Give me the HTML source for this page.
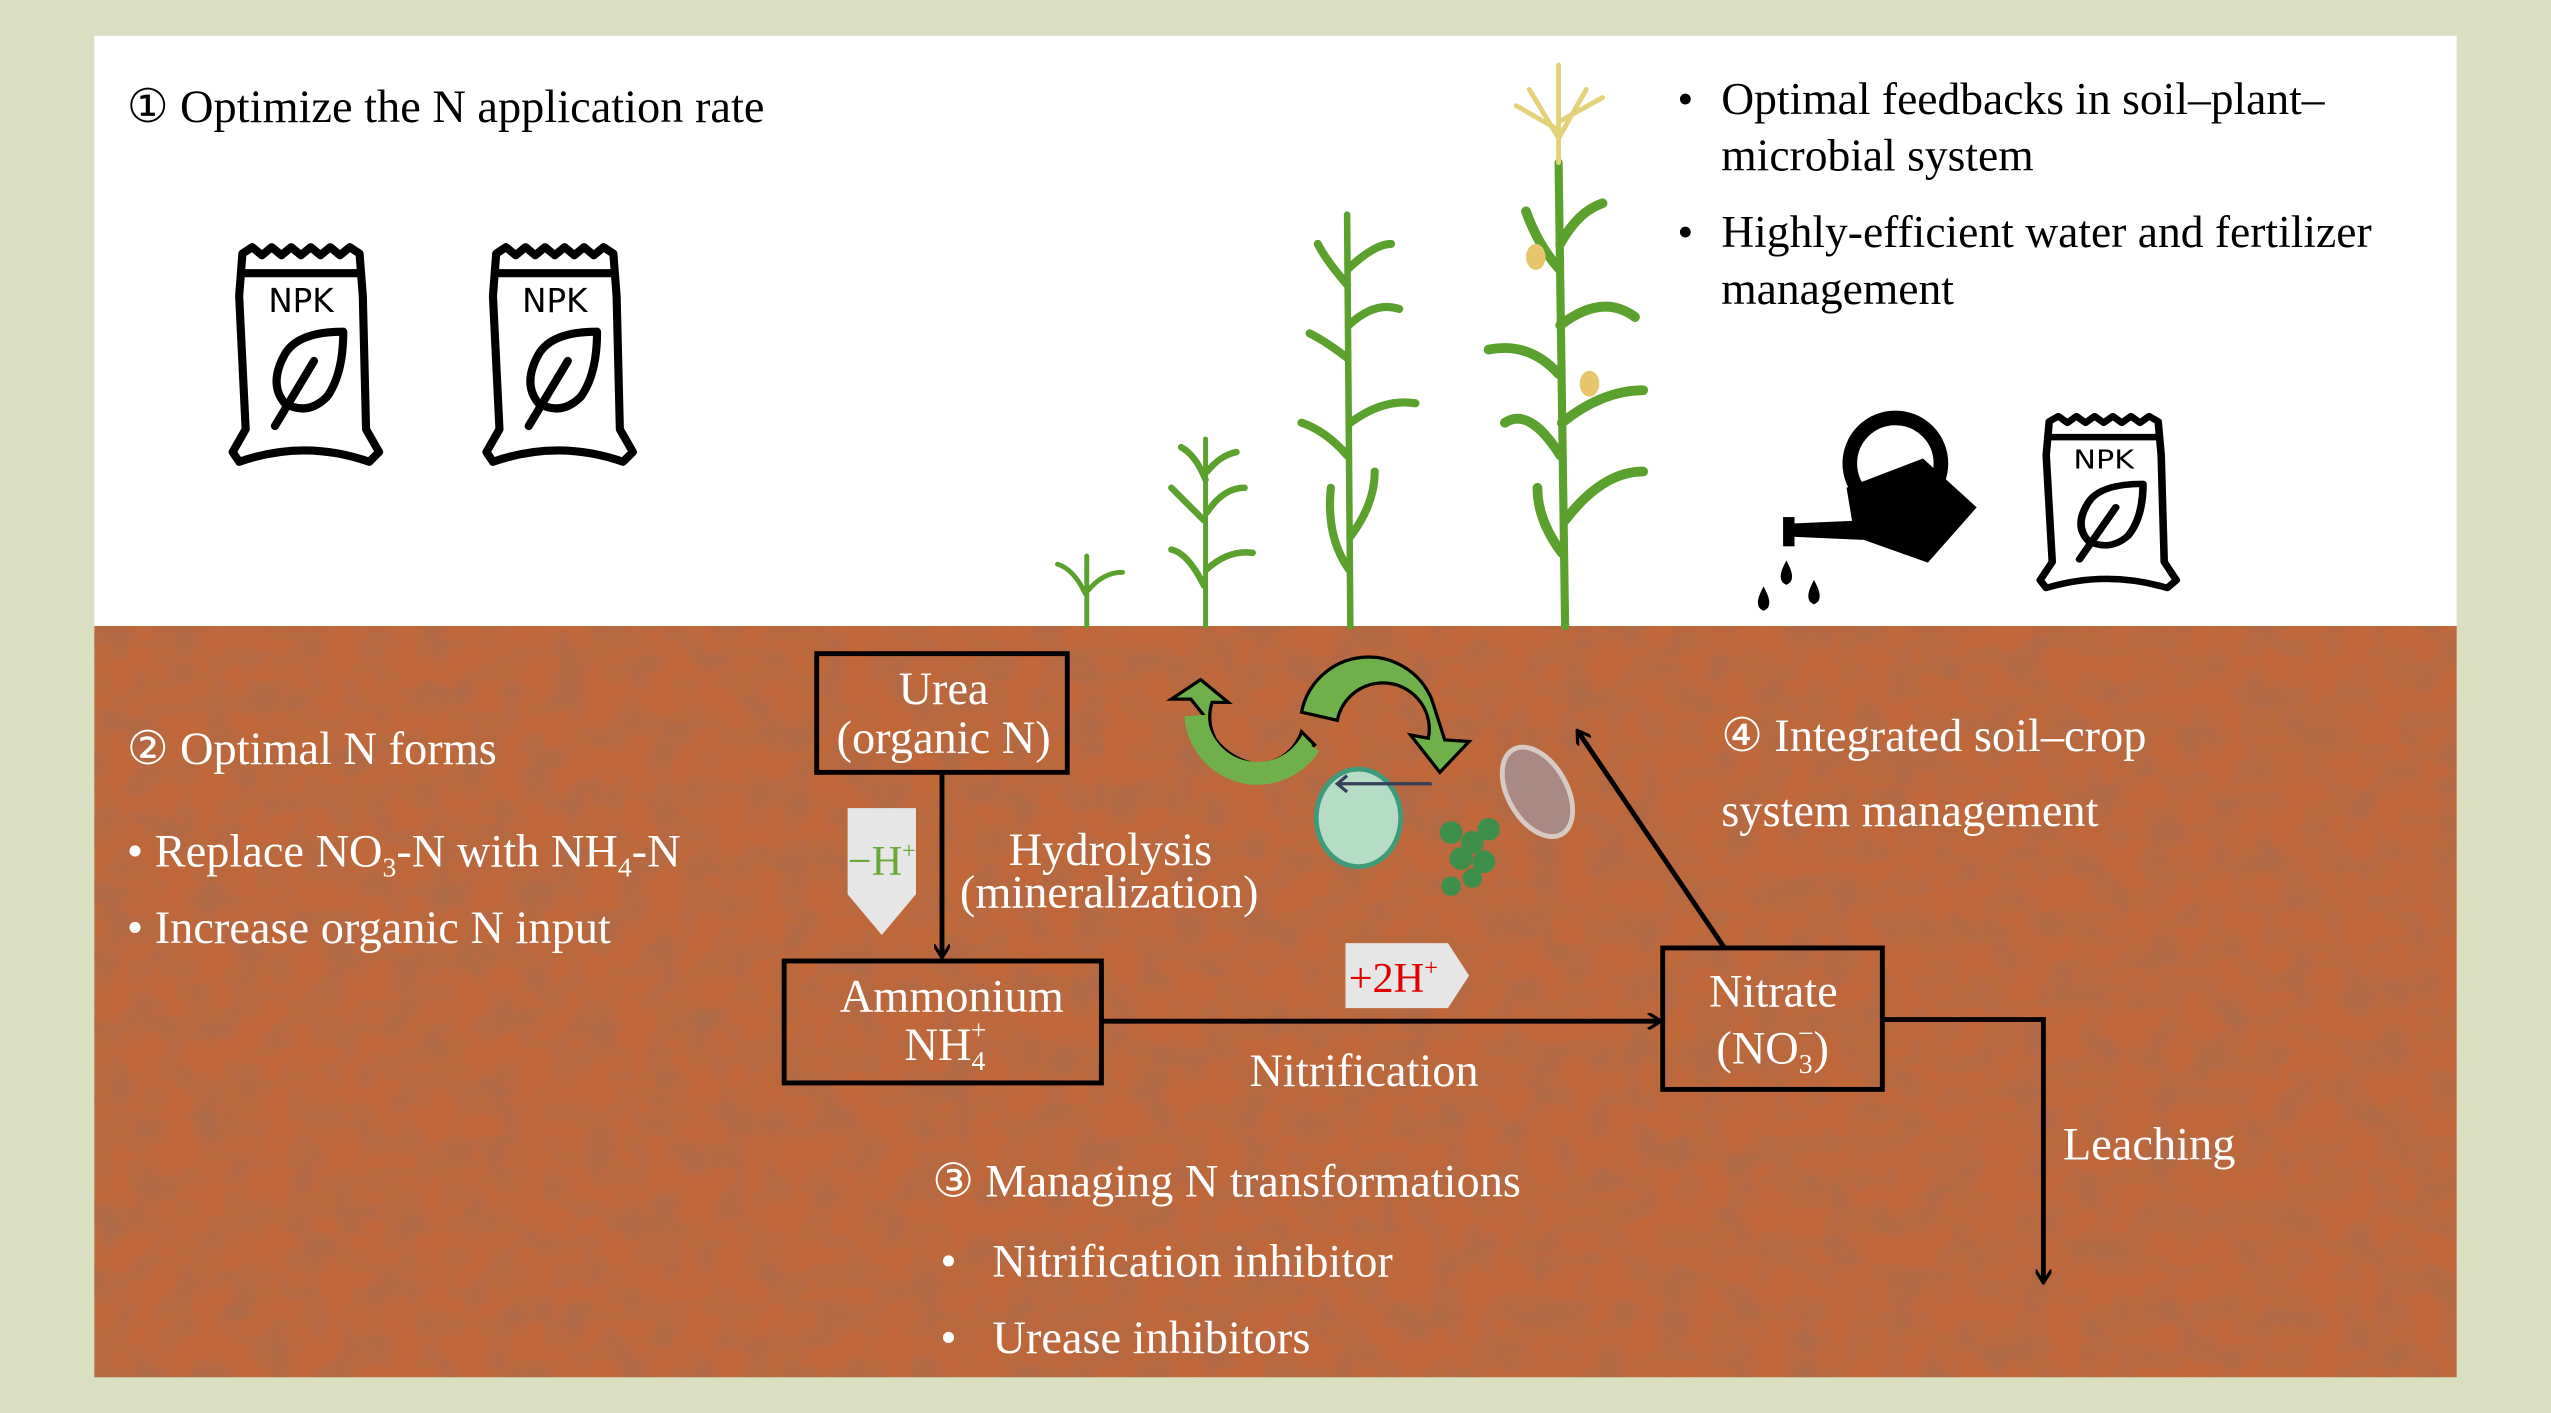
<!DOCTYPE html>
<html><head><meta charset="utf-8"><style>
html,body{margin:0;padding:0;background:#d9dfc0;}
svg{display:block;}
text{font-family:"Liberation Serif",serif;}
</style></head><body>
<svg width="2551" height="1413" viewBox="0 0 1568 869" preserveAspectRatio="none" xmlns="http://www.w3.org/2000/svg">
<defs>
<filter id="tex" x="0" y="0" width="100%" height="100%">
<feTurbulence type="fractalNoise" baseFrequency="0.05" numOctaves="3" seed="4" result="n"/>
<feColorMatrix in="n" type="matrix" values="0 0 0 0 0.35  0 0 0 0 0.15  0 0 0 0 0.08  0 0 0 1.1 -0.35" result="d"/>
<feComposite in="d" in2="SourceGraphic" operator="in" result="dd"/>
<feMerge><feMergeNode in="SourceGraphic"/><feMergeNode in="dd"/></feMerge>
</filter>
<marker id="ah" markerWidth="10" markerHeight="10" refX="8" refY="5" orient="auto" markerUnits="userSpaceOnUse">
<path d="M1,0 L9,5 L1,10" fill="none" stroke="#000" stroke-width="2"/>
</marker>
<g id="bag">
<path d="M6,4 L12,0 L18,5 L24,0 L30,5 L36,0 L42,5 L48,0 L54,5 L60,0 L66,5 L72,0 L78,4 L80,30 L82,112 L90,126 L84,132 Q44,118 4,132 L0,126 L8,112 L4,30 Z" fill="#fff" stroke="#000" stroke-width="5" stroke-linejoin="round"/>
<line x1="6" y1="16" x2="80" y2="16" stroke="#000" stroke-width="5"/>
<text x="42" y="40" font-size="20" text-anchor="middle" fill="#000" style="font-family:'DejaVu Sans',sans-serif">NPK</text>
<path d="M68,52 Q40,52 32,66 Q22,84 32,96 Q46,104 58,92 Q68,78 68,52 Z" fill="none" stroke="#000" stroke-width="5" stroke-linejoin="round"/>
<path d="M50,70 L26,110" stroke="#000" stroke-width="5" stroke-linecap="round"/>
</g>
</defs>
<rect x="0" y="0" width="1568" height="869" fill="#d9dfc0"/>
<rect x="58" y="22" width="1452" height="363" fill="#fff"/>
<rect x="58" y="385" width="1452" height="462" fill="#c1673a" filter="url(#tex)"/>

<text x="78" y="75" font-size="28.5" fill="#000">① Optimize the N application rate</text>
<use href="#bag" x="143" y="152"/>
<use href="#bag" x="299" y="152"/>
<g transform="translate(1254,256) scale(0.93,0.8)"><use href="#bag"/></g>

<text font-size="28" fill="#000"><tspan x="1031" y="70">•</tspan><tspan x="1058" y="70">Optimal feedbacks in soil–plant–</tspan><tspan x="1058" y="105">microbial system</tspan><tspan x="1031" y="152">•</tspan><tspan x="1058" y="152">Highly-efficient water and fertilizer</tspan><tspan x="1058" y="187">management</tspan></text>

<!-- watering can -->
<circle cx="1165" cy="285" r="28" fill="none" stroke="#000" stroke-width="9"/>
<path d="M1135,300 L1182,282 L1215,312 L1185,346 L1140,330 Z" fill="#000"/>
<path d="M1145,320 L1100,322 L1100,330 L1145,332 Z" fill="#000"/>
<rect x="1096" y="318" width="7" height="18" fill="#000"/>
<path d="M1098,348 q-4,8 0,10 q4,-2 0,-10z M1084,364 q-4,8 0,10 q4,-2 0,-10z M1115,360 q-4,8 0,10 q4,-2 0,-10z" fill="#000" stroke="#000" stroke-width="3"/>

<!-- plants -->
<g fill="none" stroke="#5aa12d" stroke-linecap="round">
<path d="M668,385 L668,342" stroke-width="3"/>
<path d="M667,365 Q660,350 650,347 M669,363 Q678,352 690,352" stroke-width="3"/>
<path d="M741,385 L741,270" stroke-width="3"/>
<path d="M740,360 Q730,340 720,338 M742,350 Q755,338 770,340 M740,320 Q728,308 720,300 M742,315 Q752,300 765,300 M741,295 Q735,280 726,275 M742,290 Q750,280 760,278" stroke-width="4"/>
<path d="M830,385 L828,132" stroke-width="4"/>
<path d="M829,350 Q815,330 818,300 M830,330 Q845,310 845,290 M828,280 Q815,265 800,260 M830,260 Q850,245 870,248 M828,220 Q815,210 805,205 M829,200 Q845,185 860,190 M828,175 Q815,160 810,150 M829,165 Q845,150 855,150" stroke-width="5"/>
<path d="M962,385 L958,100" stroke-width="5"/>
<path d="M960,340 Q945,320 945,300 M962,320 Q985,290 1010,290 M959,280 Q940,250 925,260 M960,260 Q985,240 1010,240 M958,230 Q940,210 915,215 M959,200 Q985,180 1005,195 M958,165 Q945,150 938,130 M959,150 Q970,130 985,125" stroke-width="6"/>
<path d="M958,100 L958,40 M958,80 L932,65 M958,75 L985,60 M958,85 L940,55 M958,85 L975,55" stroke="#e3d27a" stroke-width="3"/>
</g>
<ellipse cx="944" cy="158" rx="6" ry="8" fill="#e8c46a"/>
<ellipse cx="977" cy="236" rx="6" ry="8" fill="#e8c46a"/>

<!-- soil texts -->
<g fill="#fff" font-size="28.5">
<text x="78" y="470">② Optimal N forms</text>
<text x="78" y="533">• Replace NO<tspan font-size="17" dy="6">3</tspan><tspan dy="-6">-N with NH</tspan><tspan font-size="17" dy="6">4</tspan><tspan dy="-6">-N</tspan></text>
<text x="78" y="580">• Increase organic N input</text>
<text x="580" y="433" text-anchor="middle">Urea</text>
<text x="580" y="463" text-anchor="middle">(organic N)</text>
<text x="620" y="532">Hydrolysis</text>
<text x="590" y="558">(mineralization)</text>
<text x="585" y="622" text-anchor="middle">Ammonium</text>
<text x="556" y="652">NH<tspan font-size="17" dy="6">4</tspan><tspan font-size="17" dx="-9" dy="-19">+</tspan></text>
<text x="768" y="668">Nitrification</text>
<text x="1090" y="619" text-anchor="middle">Nitrate</text>
<text x="1055" y="654">(NO<tspan font-size="17" dy="6">3</tspan><tspan font-size="17" dx="-9" dy="-19">−</tspan><tspan dy="13">)</tspan></text>
<text x="1268" y="713">Leaching</text>
<text x="1058" y="462">④ Integrated soil–crop</text>
<text x="1058" y="508">system management</text>
<text x="573" y="736">③ Managing N transformations</text>
<text x="578" y="785">•</text><text x="610" y="785">Nitrification inhibitor</text>
<text x="578" y="832">•</text><text x="610" y="832">Urease inhibitors</text>
</g>

<!-- boxes -->
<g fill="none" stroke="#000" stroke-width="3">
<rect x="502" y="402" width="154" height="73"/>
<rect x="482" y="591" width="195" height="75"/>
<rect x="1022" y="583" width="135" height="87"/>
<line x1="579" y1="475" x2="579" y2="588" marker-end="url(#ah)"/>
<line x1="677" y1="628" x2="1020" y2="628" marker-end="url(#ah)"/>
<line x1="1060" y1="583" x2="970" y2="450" marker-end="url(#ah)"/>
<polyline points="1157,627 1256,627 1256,788" marker-end="url(#ah)"/>
</g>

<path d="M521,497 L563,497 L563,550 L542,575 L521,550 Z" fill="#e6e6e6"/>
<text x="542" y="538" text-anchor="middle" font-size="26" fill="#6aa83a">−H<tspan font-size="15" dy="-10">+</tspan></text>
<path d="M827,580 L890,580 L903,600 L890,620 L827,620 Z" fill="#e6e6e6"/>
<text x="829" y="610" font-size="26" fill="#e00000">+2H<tspan font-size="15" dy="-10">+</tspan></text>

<!-- green cycle arrows -->
<path d="M800,438 A42,42 0 0 1 880,430 L888,455 L903,456 L885,475 L867,452 L878,454 A28,28 0 0 0 822,443 Z" fill="#6fb04a" stroke="#000" stroke-width="2"/>
<path d="M808,458 A40,40 0 0 1 740,440 L732,430 L720,430 L738,418 L755,432 L745,432 A26,26 0 0 0 800,450 Z" fill="#6fb04a" stroke="#000" stroke-width="2"/>
<path d="M735,440 A38,38 0 0 0 805,458" fill="none" stroke="#6fb04a" stroke-width="14"/>
<ellipse cx="835" cy="503" rx="26" ry="30" fill="#b7dcc6" stroke="#3f9a7a" stroke-width="3"/>
<line x1="880" y1="482" x2="822" y2="482" stroke="#34405a" stroke-width="2"/>
<path d="M828,477 L822,482 L828,487" fill="none" stroke="#34405a" stroke-width="2"/>
<g fill="#3f8f4c"><circle cx="892" cy="512" r="7"/><circle cx="905" cy="518" r="7"/><circle cx="915" cy="510" r="7"/><circle cx="898" cy="528" r="7"/><circle cx="912" cy="530" r="7"/><circle cx="892" cy="545" r="6"/><circle cx="905" cy="540" r="6"/></g>
<ellipse cx="945" cy="487" rx="18" ry="30" transform="rotate(-30 945 487)" fill="#a88a82" stroke="#d7c9c4" stroke-width="3"/>
</svg>
</body></html>
